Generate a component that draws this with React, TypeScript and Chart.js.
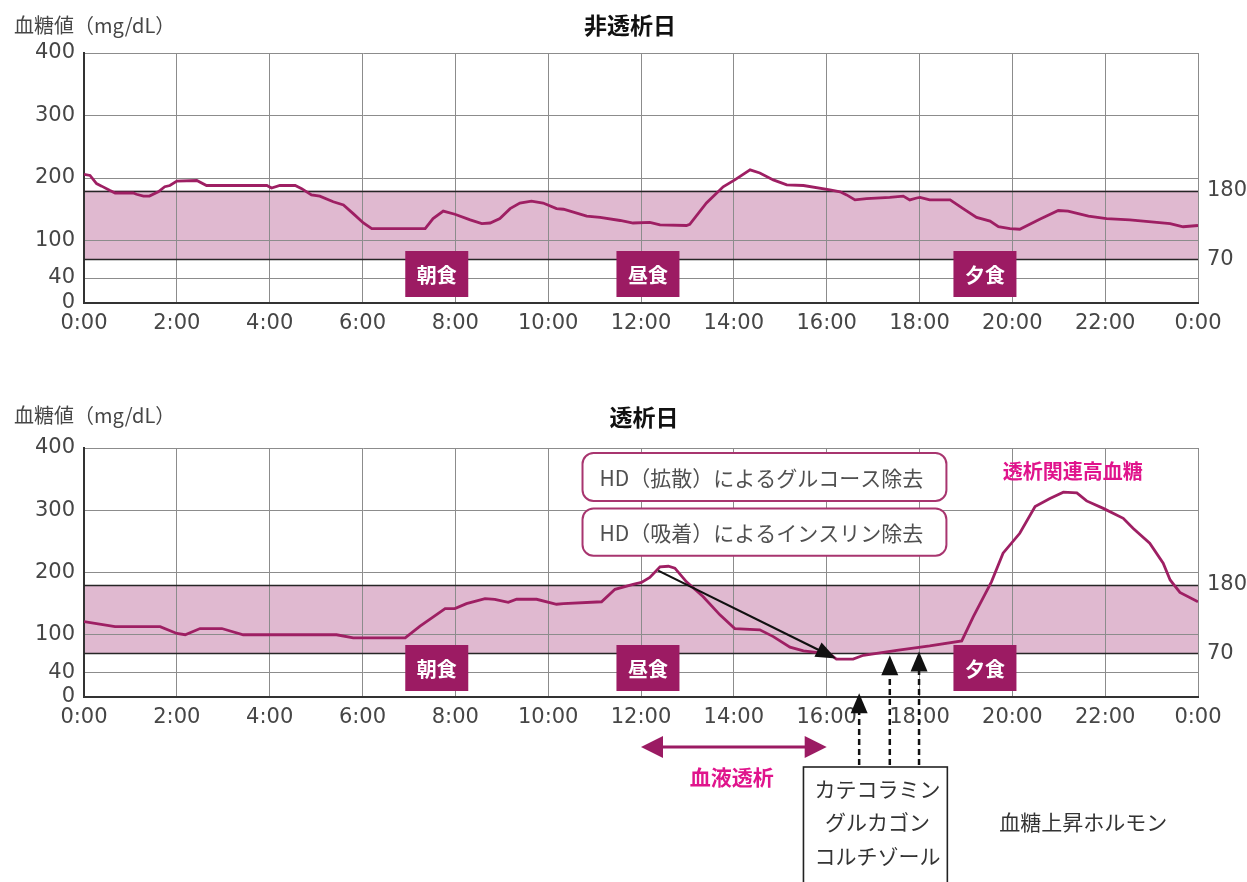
import React, { useEffect, useRef } from "react";
import { Chart, registerables } from "chart.js";

Chart.register(...registerables);

// ---------- data ----------
const HOUR_TICKS = [0, 2, 4, 6, 8, 10, 12, 14, 16, 18, 20, 22, 24];
const GLUCOSE_TICKS = [0, 40, 100, 200, 300, 400];
const TARGET_LOW = 70;
const TARGET_HIGH = 180;
const MEAL_LABELS = ["朝食", "昼食", "夕食"];
const MEAL_HOURS = [7.6, 12.15, 19.41];

const NON_HD_HOURS = [
  0, 0.13, 0.27, 0.38, 0.56, 0.67, 1.06, 1.13, 1.28, 1.41,
  1.6, 1.74, 1.85, 2.0, 2.43, 2.64, 3.94, 4.04, 4.22, 4.55,
  4.69, 4.9, 5.08, 5.37, 5.59, 5.8, 6.02, 6.2, 7.35, 7.52,
  7.74, 7.99, 8.32, 8.57, 8.75, 8.96, 9.18, 9.39, 9.64, 9.89,
  10.18, 10.33, 10.83, 11.12, 11.55, 11.83, 12.19, 12.41, 12.98, 13.05,
  13.41, 13.77, 14.02, 14.35, 14.56, 14.85, 15.14, 15.5, 16.07, 16.29,
  16.43, 16.61, 16.86, 17.36, 17.65, 17.79, 17.94, 18.01, 18.22, 18.66,
  18.94, 19.23, 19.52, 19.7, 19.95, 20.16, 20.59, 20.99, 21.2, 21.64,
  22.03, 22.53, 23.4, 23.68, 24,
];
const NON_HD_VALUES = [
  206, 204, 191, 187, 180, 176, 176, 174, 171, 171,
  178, 186, 188, 195, 196, 188, 188, 184, 188, 188,
  183, 173, 171, 162, 157, 143, 128, 119, 119, 135,
  147, 142, 133, 127, 128, 135, 151, 160, 163, 160,
  151, 150, 139, 137, 132, 128, 129, 125, 124, 126,
  160, 186, 197, 213, 208, 197, 189, 188, 181, 178,
  173, 165, 167, 169, 171, 165, 168, 169, 165, 165,
  151, 137, 131, 122, 119, 118, 134, 148, 147, 139,
  135, 133, 127, 122, 124,
];

const HD_HOURS = [
  0, 0.67, 1.64, 2.0, 2.18, 2.5, 2.97, 3.43, 5.44, 5.8,
  6.92, 7.24, 7.78, 7.99, 8.24, 8.64, 8.85, 9.14, 9.32, 9.75,
  10.18, 10.33, 11.15, 11.44, 11.83, 12.01, 12.19, 12.41, 12.59, 12.73,
  12.98, 13.34, 13.7, 14.02, 14.56, 14.85, 15.21, 15.5, 15.86, 16.07,
  16.21, 16.57, 16.79, 17.51, 18.22, 18.91, 19.16, 19.55, 19.8, 20.16,
  20.49, 20.81, 21.1, 21.39, 21.6, 21.96, 22.39, 22.6, 22.96, 23.25,
  23.4, 23.61, 24,
];
const HD_VALUES = [
  121, 113, 113, 102, 100, 110, 110, 100, 100, 95,
  95, 114, 142, 142, 150, 158, 157, 152, 157, 157,
  149, 150, 153, 173, 181, 184, 192, 209, 210, 207,
  185, 161, 132, 110, 108, 97, 80, 74, 71, 69,
  61, 61, 67, 75, 82, 90, 129, 185, 231, 263,
  306, 319, 329, 328, 315, 303, 287, 271, 247, 215,
  188, 168, 153,
];

const HD_CALLOUTS = ["HD（拡散）によるグルコース除去", "HD（吸着）によるインスリン除去"];
const HD_CALLOUT_HOURS = [10.74, 18.58];
const HD_CALLOUT_VALUES = [[392, 315], [303, 227]];
const HD_HYPER_LABEL = "透析関連高血糖";
const HD_HYPER_POS = [21.3, 363];
const HD_SESSION_LABEL = "血液透析";
const HD_SESSION_HOURS = [12, 16];
const REMOVAL_ARROW = [[12.37, 203], [16.2, 62]];
const HORMONES = ["カテコラミン", "グルカゴン", "コルチゾール"];
const HORMONE_TITLE = "血糖上昇ホルモン";
const HORMONE_BOX_HOURS = [15.5, 18.6];
const HORMONE_ARROW_HOURS = [16.7, 17.36, 17.99];
const HORMONE_ARROW_TIPS = [6, 67, 73];

const Y_TITLE = "血糖値（mg/dL）";

// ---------- styles ----------
const JP = "'Noto Sans CJK JP', 'Noto Sans', sans-serif";
const NUM = "'DejaVu Sans', sans-serif";
const LINE_COLOR = "#9e1f63";
const MEAL_COLOR = "#9c1b63";
const BAND_COLOR = "#e0b9d0";
const GRID_COLOR = "#8c8c8c";
const TEXT_COLOR = "#464646";
const PINK_TEXT = "#e0148c";
const W = 1247;

function arrowHead(ctx: CanvasRenderingContext2D, x1: number, y1: number, x2: number, y2: number, len: number, half: number) {
  const a = Math.atan2(y2 - y1, x2 - x1);
  const c = Math.cos(a), s = Math.sin(a);
  ctx.beginPath();
  ctx.moveTo(x2, y2);
  ctx.lineTo(x2 - len * c + half * s, y2 - len * s - half * c);
  ctx.lineTo(x2 - len * c - half * s, y2 - len * s + half * c);
  ctx.closePath();
  ctx.fill();
}

function arrowLine(ctx: CanvasRenderingContext2D, x1: number, y1: number, x2: number, y2: number, len: number, half: number, dash: number[] = []) {
  const a = Math.atan2(y2 - y1, x2 - x1);
  ctx.save();
  ctx.setLineDash(dash);
  ctx.beginPath();
  ctx.moveTo(x1, y1);
  ctx.lineTo(x2 - (len - 2) * Math.cos(a), y2 - (len - 2) * Math.sin(a));
  ctx.stroke();
  ctx.restore();
  arrowHead(ctx, x1, y1, x2, y2, len, half);
}

interface Props {
  hours: number[];
  values: number[];
  title: string;
  titleX: number;
  titleY: number;
  dialysis: boolean;
  top: number;
  height: number;
  plotTop: number;
  plotBottom: number;
}

function GlucoseChart(p: Props) {
  const ref = useRef<HTMLCanvasElement | null>(null);
  useEffect(() => {
    const canvas = ref.current!;
    const plugin = {
      id: "glucoseDecor",
      beforeDraw(chart: any) {
        const { ctx, chartArea: a, scales } = chart;
        const y = scales.y;
        ctx.save();
        ctx.fillStyle = BAND_COLOR;
        const yt = y.getPixelForValue(TARGET_HIGH);
        const yb = y.getPixelForValue(TARGET_LOW);
        ctx.fillRect(a.left, yt, a.right - a.left, yb - yt);
        ctx.restore();
      },
      beforeDatasetsDraw(chart: any) {
        const { ctx, chartArea: a, scales } = chart;
        ctx.save();
        ctx.strokeStyle = "#262626";
        ctx.lineWidth = 1.6;
        [TARGET_HIGH, TARGET_LOW].forEach((v) => {
          const yy = Math.round(scales.y.getPixelForValue(v)) + 0.5;
          ctx.beginPath();
          ctx.moveTo(a.left, yy);
          ctx.lineTo(a.right, yy);
          ctx.stroke();
        });
        ctx.restore();
      },
      afterDatasetsDraw(chart: any) {
        const { ctx, chartArea: a, scales } = chart;
        const x = scales.x, y = scales.y;
        ctx.save();
        // meal boxes
        MEAL_LABELS.forEach((lab, i) => {
          const cx = x.getPixelForValue(MEAL_HOURS[i]);
          const bw = 63, bh = 46;
          const by = a.bottom - 6 - bh;
          ctx.fillStyle = MEAL_COLOR;
          ctx.fillRect(cx - bw / 2, by, bw, bh);
          ctx.fillStyle = "#ffffff";
          ctx.font = `bold 20px ${JP}`;
          ctx.textAlign = "center";
          ctx.textBaseline = "middle";
          ctx.fillText(lab, cx, by + bh / 2 + 1);
        });
        // right-side labels
        ctx.fillStyle = TEXT_COLOR;
        ctx.font = `21px ${NUM}`;
        ctx.textAlign = "left";
        ctx.textBaseline = "middle";
        [TARGET_HIGH, TARGET_LOW].forEach((v) => {
          ctx.fillText(String(v), a.right + 9, y.getPixelForValue(v));
        });
        ctx.restore();
      },
      afterDraw(chart: any) {
        const { ctx, chartArea: a, scales } = chart;
        const x = scales.x, y = scales.y;
        ctx.save();
        // title
        ctx.fillStyle = "#111";
        ctx.font = `bold 23px ${JP}`;
        ctx.textAlign = "center";
        ctx.textBaseline = "middle";
        ctx.fillText(p.title, p.titleX, p.titleY);
        // y title
        ctx.fillStyle = TEXT_COLOR;
        ctx.font = `20px ${JP}`;
        ctx.textAlign = "left";
        ctx.fillText(Y_TITLE, 14, 25);

        if (p.dialysis) {
          // removal arrow
          ctx.strokeStyle = "#111";
          ctx.fillStyle = "#111";
          ctx.lineWidth = 2.2;
          arrowLine(
            ctx,
            x.getPixelForValue(REMOVAL_ARROW[0][0]), y.getPixelForValue(REMOVAL_ARROW[0][1]),
            x.getPixelForValue(REMOVAL_ARROW[1][0]), y.getPixelForValue(REMOVAL_ARROW[1][1]),
            20, 8
          );
          // callouts
          const bl = x.getPixelForValue(HD_CALLOUT_HOURS[0]);
          const br = x.getPixelForValue(HD_CALLOUT_HOURS[1]);
          HD_CALLOUTS.forEach((txt, i) => {
            const bt = y.getPixelForValue(HD_CALLOUT_VALUES[i][0]);
            const bb = y.getPixelForValue(HD_CALLOUT_VALUES[i][1]);
            ctx.beginPath();
            ctx.roundRect(bl, bt, br - bl, bb - bt, 11);
            ctx.fillStyle = "#ffffff";
            ctx.fill();
            ctx.strokeStyle = "#a8356f";
            ctx.lineWidth = 2;
            ctx.stroke();
            ctx.fillStyle = "#505050";
            ctx.font = `21px ${JP}`;
            ctx.textAlign = "left";
            ctx.textBaseline = "middle";
            ctx.fillText(txt, bl + 17, (bt + bb) / 2 + 1);
          });
          // hyperglycemia label
          ctx.fillStyle = PINK_TEXT;
          ctx.font = `bold 20px ${JP}`;
          ctx.textAlign = "center";
          ctx.fillText(HD_HYPER_LABEL, x.getPixelForValue(HD_HYPER_POS[0]), y.getPixelForValue(HD_HYPER_POS[1]));

          // hemodialysis double arrow
          const ay = a.bottom + 50;
          const ax1 = x.getPixelForValue(HD_SESSION_HOURS[0]);
          const ax2 = x.getPixelForValue(HD_SESSION_HOURS[1]);
          ctx.strokeStyle = "#9b1b63";
          ctx.fillStyle = "#9b1b63";
          ctx.lineWidth = 3;
          ctx.beginPath();
          ctx.moveTo(ax1 + 18, ay);
          ctx.lineTo(ax2 - 18, ay);
          ctx.stroke();
          arrowHead(ctx, ax2, ay, ax1, ay, 22, 11);
          arrowHead(ctx, ax1, ay, ax2, ay, 22, 11);
          ctx.fillStyle = PINK_TEXT;
          ctx.font = `bold 21px ${JP}`;
          ctx.textAlign = "center";
          ctx.fillText(HD_SESSION_LABEL, (ax1 + ax2) / 2 - 2, a.bottom + 80);

          // hormone dashed arrows
          const boxTop = a.bottom + 70;
          ctx.strokeStyle = "#111";
          ctx.fillStyle = "#111";
          ctx.lineWidth = 2.5;
          HORMONE_ARROW_HOURS.forEach((h, i) => {
            const hx = x.getPixelForValue(h);
            arrowLine(ctx, hx, boxTop - 2, hx, y.getPixelForValue(HORMONE_ARROW_TIPS[i]), 20, 8.5, [6, 4]);
          });
          // hormone box
          const hl = x.getPixelForValue(HORMONE_BOX_HOURS[0]);
          const hr = x.getPixelForValue(HORMONE_BOX_HOURS[1]);
          ctx.fillStyle = "#ffffff";
          ctx.fillRect(hl, boxTop, hr - hl, chart.height - boxTop + 10);
          ctx.strokeStyle = "#222";
          ctx.lineWidth = 1.6;
          ctx.strokeRect(hl, boxTop, hr - hl, chart.height - boxTop + 10);
          ctx.fillStyle = "#333";
          ctx.font = `21px ${JP}`;
          ctx.textAlign = "center";
          HORMONES.forEach((t, i) => {
            ctx.fillText(t, (hl + hr) / 2 + 2, a.bottom + 92 + i * 33.5);
          });
          ctx.textAlign = "left";
          ctx.font = `21px ${JP}`;
          ctx.fillText(HORMONE_TITLE, hr + 52, a.bottom + 125);
        }
        ctx.restore();
      },
    };

    const chart = new Chart(canvas, {
      type: "line",
      data: {
        datasets: [
          {
            data: p.hours.map((h, i) => ({ x: h, y: p.values[i] })),
            borderColor: LINE_COLOR,
            borderWidth: 2.8,
            pointRadius: 0,
            tension: 0,
            fill: false,
          },
        ],
      },
      options: {
        responsive: false,
        animation: false,
        devicePixelRatio: 1,
        layout: { padding: { left: 0, right: W - 1198, top: p.plotTop, bottom: p.height - p.plotBottom - 40 } },
        plugins: { legend: { display: false }, tooltip: { enabled: false }, title: { display: false } },
        scales: {
          x: {
            type: "linear",
            min: 0,
            max: 24,
            afterBuildTicks: (s: any) => {
              s.ticks = HOUR_TICKS.map((v) => ({ value: v }));
            },
            afterFit: (s: any) => {
              s.height = 40;
            },
            ticks: {
              callback: (v: any) => `${Number(v) % 24}:00`,
              font: { family: NUM, size: 21 },
              color: TEXT_COLOR,
              padding: 8,
              maxRotation: 0,
              autoSkip: false,
            },
            grid: { color: GRID_COLOR, lineWidth: 1, drawTicks: false },
            border: { color: "#333", width: 2 },
          },
          y: {
            type: "linear",
            min: 0,
            max: 400,
            afterBuildTicks: (s: any) => {
              s.ticks = GLUCOSE_TICKS.map((v) => ({ value: v }));
            },
            afterFit: (s: any) => {
              s.width = 84;
            },
            ticks: {
              font: { family: NUM, size: 21 },
              color: TEXT_COLOR,
              padding: 9,
              autoSkip: false,
            },
            grid: { color: GRID_COLOR, lineWidth: 1, drawTicks: false },
            border: { color: "#333", width: 2 },
          },
        },
      },
      plugins: [plugin],
    } as any);
    return () => chart.destroy();
  }, []);
  return (
    <canvas
      ref={ref}
      width={W}
      height={p.height}
      style={{ position: "absolute", left: 0, top: p.top, width: W, height: p.height }}
    />
  );
}

export default function App() {
  return (
    <div style={{ position: "fixed", left: 0, top: 0, width: W, height: 882, background: "#fff", overflow: "hidden" }}>
      <GlucoseChart
        hours={NON_HD_HOURS}
        values={NON_HD_VALUES}
        title="非透析日"
        titleX={630}
        titleY={25}
        dialysis={false}
        top={0}
        height={360}
        plotTop={53}
        plotBottom={303}
      />
      <GlucoseChart
        hours={HD_HOURS}
        values={HD_VALUES}
        title="透析日"
        titleX={644}
        titleY={27}
        dialysis={true}
        top={390}
        height={492}
        plotTop={58}
        plotBottom={307}
      />
    </div>
  );
}
